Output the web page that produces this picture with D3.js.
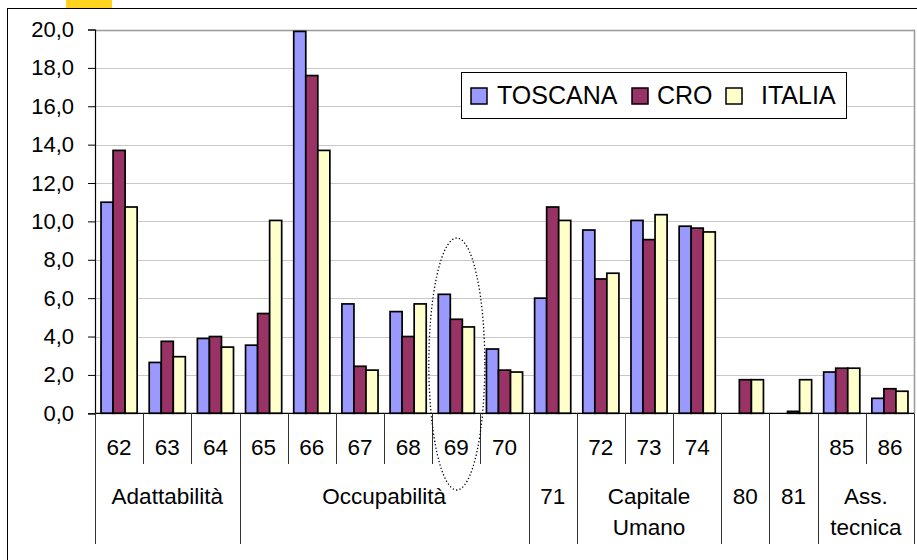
<!DOCTYPE html>
<html><head><meta charset="utf-8">
<script src="https://cdn.jsdelivr.net/npm/d3@7"></script>
<style>
html,body{margin:0;padding:0;background:#fff;}
svg{display:block;font-family:"Liberation Sans",Arial,sans-serif;}
</style></head>
<body>
<svg id="chart" width="917" height="560"></svg>
<script>
const categories = ["62","63","64","65","66","67","68","69","70","71","72","73","74","80","81","85","86"];
const level1Labels = ["62","63","64","65","66","67","68","69","70","","72","73","74","","","85","86"];
const groupLabels = [["Adattabilità"],["Occupabilità"],["71"],["Capitale","Umano"],["80"],["81"],["Ass.","tecnica"]];
const groupSizes = [3,6,1,3,1,1,2];
const seriesNames = ["TOSCANA","CRO","ITALIA"];
const seriesColors = ["#9999FF","#993366","#FFFFCC"];
const toscana = [11.0,2.65,3.9,3.55,19.9,5.7,5.3,6.2,3.35,6.0,9.55,10.05,9.75,0,0,2.15,0.78];
const cro     = [13.7,3.75,4.0,5.2,17.6,2.45,4.0,4.9,2.25,10.75,7.0,9.05,9.65,1.75,0.1,2.35,1.28];
const italia  = [10.75,2.95,3.45,10.05,13.7,2.25,5.7,4.5,2.15,10.05,7.3,10.35,9.45,1.75,1.75,2.35,1.15];
const yTicks = [0,2,4,6,8,10,12,14,16,18,20];

const svg = d3.select("#chart");
const M = {left:95, right:914, top:29.5, bottom:413.3};

// outer frame and decoration
svg.append("rect").attr("x",66).attr("y",0).attr("width",46).attr("height",8).attr("fill","#FFD320");
svg.append("rect").attr("x",7.5).attr("y",8.5).attr("width",1000).attr("height",1000)
  .attr("fill","none").attr("stroke","#000").attr("stroke-width",1);

const x = d3.scaleBand().domain(categories).range([M.left,M.right]).paddingInner(0).paddingOuter(0);
const x1 = d3.scaleBand().domain(seriesNames).range([0,x.bandwidth()]).paddingInner(0).paddingOuter(0.5);
const y = d3.scaleLinear().domain([0,20]).range([M.bottom,M.top]);

// gridlines
svg.append("g").selectAll("line").data(yTicks.filter(d=>d>0)).join("line")
  .attr("x1",M.left).attr("x2",M.right)
  .attr("y1",d=>Math.round(y(d))+0.5).attr("y2",d=>Math.round(y(d))+0.5)
  .attr("stroke",d=>d===20?"#999":"#c8c8c8").attr("stroke-width",d=>d===20?1.5:1);
// right border of plot area
svg.append("line").attr("x1",M.right+0.5).attr("x2",M.right+0.5).attr("y1",M.top).attr("y2",M.bottom)
  .attr("stroke","#999").attr("stroke-width",1.5);

// bars
const series = [toscana,cro,italia];
const gBars = svg.append("g");
series.forEach((vals,si)=>{
  gBars.append("g").selectAll("rect").data(vals.map((v,i)=>({v,c:categories[i]}))).join("rect")
    .filter(d=>d.v>0)
    .attr("x",d=>x(d.c)+x1(seriesNames[si]))
    .attr("width",x1.bandwidth())
    .attr("y",d=>y(d.v))
    .attr("height",d=>y(0)-y(d.v))
    .attr("fill",seriesColors[si]).attr("stroke","#000").attr("stroke-width",1.7);
});

// y axis
const yAxis = d3.axisLeft(y).tickValues(yTicks).tickSize(7).tickPadding(14)
  .tickFormat(d=>d.toFixed(1).replace(".",","));
const gy = svg.append("g").attr("transform",`translate(${M.left},0)`).call(yAxis);
gy.select(".domain").attr("stroke","#000").attr("stroke-width",1.2);
gy.selectAll(".tick line").attr("stroke","#000");
gy.selectAll("text").attr("font-size",22).attr("fill","#000").attr("font-family","Liberation Sans, Arial");

// x axis baseline
svg.append("line").attr("x1",M.left).attr("x2",M.right).attr("y1",M.bottom).attr("y2",M.bottom)
  .attr("stroke","#000").attr("stroke-width",1.2);

// category boundary lines
const groupStarts = [];
let acc = 0;
groupSizes.forEach(s=>{groupStarts.push(acc); acc+=s;});
const longIdx = new Set(groupStarts);
const boundaries = categories.map((c,i)=>({pos:x(c),long:longIdx.has(i)}));
boundaries.push({pos:x(categories[categories.length-1])+x.bandwidth(),long:true});
svg.append("g").selectAll("line").data(boundaries).join("line")
  .attr("x1",d=>Math.round(d.pos)+0.5).attr("x2",d=>Math.round(d.pos)+0.5)
  .attr("y1",M.bottom).attr("y2",d=>d.long?544:464)
  .attr("stroke","#333").attr("stroke-width",1);

// level 1 labels
svg.append("g").selectAll("text").data(categories).join("text")
  .attr("x",d=>x(d)+x.bandwidth()/2).attr("y",455)
  .attr("text-anchor","middle").attr("font-size",22.5).attr("fill","#000")
  .text((d,i)=>level1Labels[i]);

// level 2 labels
const gL2 = svg.append("g");
groupLabels.forEach((lines,gi)=>{
  const s = groupStarts[gi], e = s+groupSizes[gi]-1;
  const cx = (x(categories[s]) + x(categories[e]) + x.bandwidth())/2;
  lines.forEach((t,li)=>{
    gL2.append("text").attr("x",cx).attr("y",504+li*31)
      .attr("text-anchor","middle").attr("font-size",22.5).attr("fill","#000").text(t);
  });
});

// dotted ellipse around 69
const c69 = x("69")+x.bandwidth()/2;
svg.append("ellipse").attr("cx",c69+0.5).attr("cy",364).attr("rx",28).attr("ry",126)
  .attr("fill","none").attr("stroke","#000").attr("stroke-width",1.3).attr("stroke-dasharray","1.3,2.2");

// legend
const lg = svg.append("g");
lg.append("rect").attr("x",461.5).attr("y",72.5).attr("width",385).attr("height",46)
  .attr("fill","#fff").attr("stroke","#000").attr("stroke-width",1);
const legX = [471,632,726];
const legTX = [497,657,761];
seriesNames.forEach((n,i)=>{
  lg.append("rect").attr("x",legX[i]).attr("y",88).attr("width",16).attr("height",16)
    .attr("fill",seriesColors[i]).attr("stroke","#000").attr("stroke-width",1.5);
  lg.append("text").attr("x",legTX[i]).attr("y",104).attr("font-size",25).attr("fill","#000").text(n);
});
</script>
</body></html>
